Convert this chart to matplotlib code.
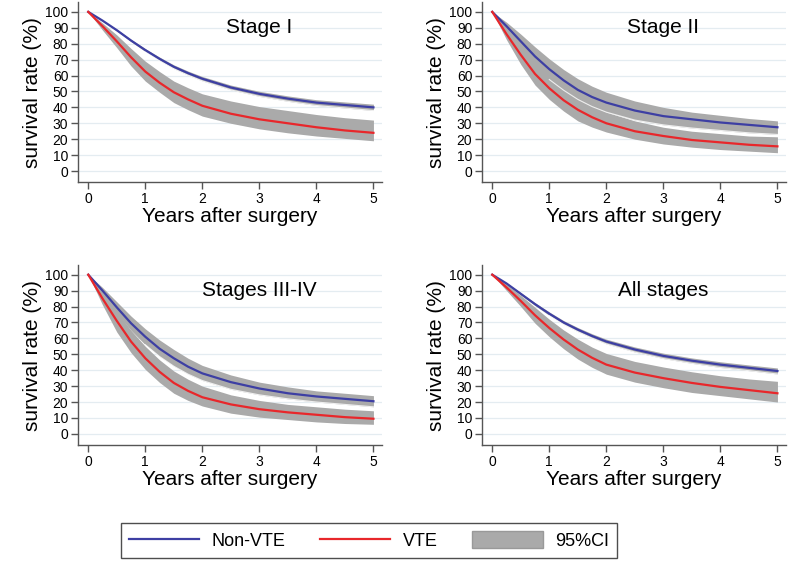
import matplotlib
matplotlib.use('Agg')
import matplotlib.pyplot as plt
from matplotlib.patches import Patch
from matplotlib.lines import Line2D

plt.rcParams['font.family'] = ['Liberation Sans', 'DejaVu Sans']

years = [0, 0.25, 0.5, 0.75, 1, 1.25, 1.5, 1.75, 2, 2.5, 3, 3.5, 4, 4.5, 5]
titles = ['Stage I', 'Stage II', 'Stages III-IV', 'All stages']

# non-VTE survival with 95% CI
nonvte = [
    [100, 94.5, 88.5, 82, 76, 70.5, 65.5, 61.5, 58, 52.5, 48.5, 45.5, 43, 41.5, 40],
    [100, 91, 81.5, 72, 64, 57, 51, 46.5, 43, 38, 34.5, 32.5, 30.5, 29, 27.5],
    [100, 90, 79.5, 69.5, 61, 53.5, 47.5, 42.2, 38, 32.5, 28.5, 25.5, 23.5, 22, 20.5],
    [100, 94.5, 88, 81.5, 75.5, 70, 65.5, 61.5, 58, 53, 49, 46, 43.5, 41.5, 39.5],
]
nonvte_lo = [
    [100, 94.2, 87.9, 81.3, 75.1, 69.4, 64.3, 60.2, 56.6, 51, 46.9, 43.8, 41.2, 39.6, 38],
    [100, 88.5, 77, 66.5, 57.5, 50.8, 45, 40.5, 37, 32, 29, 27, 25.5, 24, 23],
    [100, 88, 76, 65, 56, 48.6, 42.5, 37.5, 33.5, 28, 24.5, 22, 20, 18.5, 17],
    [100, 94.1, 87.3, 80.6, 74.4, 68.8, 64.2, 60.1, 56.5, 51.4, 47.3, 44.3, 41.7, 39.7, 37.6],
]
nonvte_hi = [
    [100, 94.8, 89.1, 82.7, 76.9, 71.6, 66.7, 62.8, 59.4, 54, 50.1, 47.2, 44.8, 43.4, 42],
    [100, 93.5, 86, 78, 70.5, 63.8, 58, 53.3, 49.5, 44, 40, 37, 35, 33, 31.5],
    [100, 92, 83, 74, 66, 59, 53, 47.5, 43, 37, 32.5, 29.5, 27, 25.5, 24],
    [100, 94.9, 88.7, 82.4, 76.6, 71.2, 66.8, 62.9, 59.5, 54.6, 50.7, 47.7, 45.3, 43.3, 41.4],
]

# VTE survival with 95% CI
vte = [
    [100, 91, 81.5, 71.5, 62.5, 55.5, 49.5, 45, 41, 36, 32.5, 30, 27.5, 25.5, 24],
    [100, 86, 73, 61, 52, 44.5, 38.5, 33.8, 30, 25, 22, 19.5, 18, 16.5, 15.5],
    [100, 85, 71, 58, 47.5, 39, 32, 27, 23, 18.5, 15.5, 13.5, 12, 10.5, 9.5],
    [100, 92, 83.5, 74.5, 66.5, 59.3, 53, 47.8, 43.5, 38.5, 35, 32, 29.5, 27.5, 25.5],
]
vte_lo = [
    [100, 88.5, 77.5, 66, 56.5, 49.5, 43, 38.5, 34.5, 30, 26.5, 24, 22, 20.5, 19],
    [100, 82.5, 67, 54, 45, 37.7, 31.5, 27.6, 24.5, 20, 17, 15, 13.5, 12.5, 11.5],
    [100, 81, 64, 51, 40.5, 32.3, 25.5, 21, 17.5, 13, 10.5, 9, 7.5, 6.5, 6],
    [100, 90, 80, 69.5, 61, 53.5, 47, 41.8, 37.5, 32.5, 29, 26, 24, 22, 20],
]
vte_hi = [
    [100, 93, 85.5, 77, 69, 62.5, 56.5, 52.3, 48.5, 44, 40.5, 38, 35.5, 33.5, 32],
    [100, 89.5, 79, 68.5, 59.5, 52.3, 46, 41.2, 37, 31.5, 27.5, 25, 23.5, 22, 21.5],
    [100, 88.5, 77, 65, 55, 46.5, 39.5, 34.3, 30, 24.5, 21, 18.5, 17, 15.5, 14.5],
    [100, 94, 87, 79.5, 72, 65.3, 59.5, 54.5, 50.5, 45.5, 42, 39, 36.5, 34.5, 33],
]

blue = '#3d3fa3'
red = '#e8272b'
gray = '#aaaaaa'
grid = '#e4ecf1'
axcol = '#555555'

fig = plt.figure(figsize=(8, 5.82), dpi=100)
# left, bottom in figure fractions
pos = [(0.0975, 0.687), (0.6025, 0.687), (0.0975, 0.2354), (0.6025, 0.2354)]

for i in range(4):
    ax = fig.add_axes([pos[i][0], pos[i][1], 0.38, 0.309])
    for v in range(0, 101, 10):
        ax.axhline(v, color=grid, lw=0.9, zorder=0)
    ax.fill_between(years, vte_lo[i], vte_hi[i], color=gray, lw=0, zorder=1)
    ax.fill_between(years, nonvte_lo[i], nonvte_hi[i], color=gray, lw=0, zorder=2)
    ax.plot(years[4:], nonvte_lo[i][4:], color='white', lw=0.8, alpha=0.8, zorder=2.5)
    ax.plot(years, nonvte[i], color=blue, lw=1.6, zorder=3)
    ax.plot(years, vte[i], color=red, lw=1.6, zorder=3)
    ax.text(3, 90, titles[i], fontsize=15, ha='center', va='center')

    ax.set_xlim(-0.18, 5.15)
    ax.set_ylim(-7, 106)
    ax.set_xticks(range(6))
    ax.set_yticks(range(0, 101, 10))
    ax.spines['top'].set_visible(False)
    ax.spines['right'].set_visible(False)
    for s in ['left', 'bottom']:
        ax.spines[s].set_color(axcol)
        ax.spines[s].set_linewidth(1)
    ax.tick_params(direction='out', length=5, width=1, color=axcol,
                   labelsize=10, pad=2)
    ax.set_ylabel('survival rate (%)', fontsize=15, labelpad=2)
    ax.set_xlabel('Years after surgery', fontsize=15, labelpad=1)

handles = [Line2D([], [], color=blue, lw=1.6),
           Line2D([], [], color=red, lw=1.6),
           Patch(facecolor=gray, edgecolor='#999999')]
leg = fig.legend(handles, ['Non-VTE', 'VTE', '95%CI'], ncol=3,
                 loc='center', bbox_to_anchor=(369 / 800, 1 - 540.5 / 582),
                 fontsize=13, frameon=True, fancybox=False, edgecolor='#222222',
                 handlelength=3.9, handleheight=1.1, handletextpad=0.7,
                 columnspacing=1.9, borderpad=0.45)
leg.get_frame().set_linewidth(1)

fig.savefig('out.png', dpi=100, facecolor='white')
